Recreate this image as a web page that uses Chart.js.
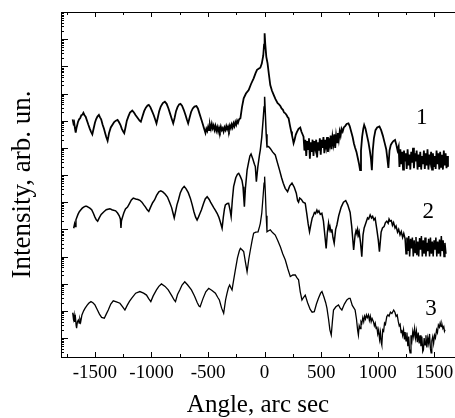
<!DOCTYPE html>
<html>
<head>
<meta charset="utf-8">
<script src="https://cdn.jsdelivr.net/npm/chart.js@4.4.1/dist/chart.umd.min.js"></script>
<style>
  html, body { margin: 0; padding: 0; background: #fff; }
  #wrap { width: 455px; height: 418px; }
</style>
</head>
<body>
<div id="wrap"><canvas id="chart_xrd"></canvas></div>
<script>
// angle (arc sec) and log10 intensity
var curve1 = [
  [-1697, 9.05], [-1690, 8.9], [-1684, 8.95], [-1676, 8.7], [-1670, 8.56], [-1662, 8.75], [-1650, 8.95], [-1640, 9.05],
  [-1630, 9.1], [-1620, 9.2], [-1610, 9.22], [-1602, 9.29], [-1592, 9.2], [-1582, 9.15], [-1570, 9.0], [-1558, 8.85],
  [-1545, 8.7], [-1535, 8.6], [-1523, 8.5], [-1512, 8.7], [-1500, 8.92], [-1490, 9.05], [-1478, 9.15], [-1465, 9.21],
  [-1455, 9.12], [-1445, 9.05], [-1432, 8.85], [-1420, 8.7], [-1410, 8.55], [-1400, 8.4], [-1388, 8.26], [-1375, 8.55],
  [-1360, 8.75], [-1345, 8.85], [-1330, 8.95], [-1315, 9.0], [-1300, 9.03], [-1288, 8.95], [-1275, 8.85], [-1262, 8.7],
  [-1250, 8.6], [-1241, 8.54], [-1230, 8.75], [-1218, 9.0], [-1205, 9.15], [-1190, 9.3], [-1170, 9.37], [-1155, 9.3],
  [-1140, 9.2], [-1122, 9.1], [-1105, 9.0], [-1094, 8.96], [-1080, 9.15], [-1065, 9.35], [-1050, 9.48], [-1035, 9.56],
  [-1024, 9.58], [-1010, 9.5], [-995, 9.35], [-980, 9.2], [-968, 9.05], [-956, 8.9], [-945, 9.1], [-932, 9.35],
  [-918, 9.52], [-900, 9.65], [-882, 9.7], [-866, 9.62], [-850, 9.45], [-835, 9.25], [-820, 9.05], [-808, 8.9],
  [-796, 9.1], [-783, 9.35], [-770, 9.5], [-756, 9.6], [-744, 9.62], [-730, 9.55], [-715, 9.4], [-700, 9.22],
  [-688, 9.05], [-676, 8.9], [-664, 9.1], [-650, 9.32], [-635, 9.45], [-620, 9.52], [-603, 9.54], [-590, 9.45],
  [-575, 9.25], [-560, 9.05], [-545, 8.85], [-538, 8.75], [-523, 8.55],
  [-515, 8.7], [-507, 8.62], [-499, 8.78], [-491, 8.65], [-483, 8.85], [-475, 8.7], [-467, 8.88], [-459, 8.72],
  [-451, 8.82], [-443, 8.66], [-435, 8.8], [-427, 8.63], [-419, 8.76], [-411, 8.6], [-403, 8.74], [-395, 8.62],
  [-387, 8.78], [-379, 8.65], [-371, 8.72], [-363, 8.6], [-355, 8.75], [-347, 8.66], [-339, 8.8], [-331, 8.68],
  [-323, 8.78], [-315, 8.66], [-307, 8.82], [-299, 8.72], [-291, 8.86], [-283, 8.75], [-275, 8.9], [-267, 8.8],
  [-259, 8.95], [-251, 8.85], [-243, 9.0], [-235, 8.92], [-225, 9.05], [-214, 9.09],
  [-200, 9.5], [-185, 9.82], [-165, 10.0], [-141, 10.13], [-120, 10.35], [-97, 10.56], [-80, 10.75], [-67, 10.87],
  [-50, 10.92], [-38, 10.95], [-25, 11.1], [-12, 11.4], [-5, 11.8], [0, 12.22], [6, 11.8], [15, 11.35],
  [26, 11.11], [38, 10.7], [50, 10.31], [65, 10.1], [80, 9.95], [95, 9.8], [115, 9.64], [127, 9.6],
  [139, 9.54], [150, 9.45], [162, 9.4], [172, 9.3], [183, 9.27], [195, 9.2], [205, 9.12], [212, 9.09],
  [225, 8.8], [235, 8.6], [242, 8.47], [250, 8.3], [256, 8.17], [265, 8.3], [275, 8.48], [286, 8.59],
  [300, 8.7], [315, 8.75], [325, 8.6], [335, 8.5], [344, 8.41],
  [352, 7.9], [360, 8.3], [368, 7.7], [376, 8.25], [384, 7.95], [392, 8.35], [400, 7.6], [408, 8.2],
  [416, 7.85], [424, 8.3], [432, 7.7], [440, 8.25], [448, 8.0], [456, 8.3], [464, 7.65], [472, 8.2],
  [480, 7.9], [488, 8.35], [496, 7.75], [504, 8.3], [512, 8.0], [520, 8.4], [528, 7.8], [536, 8.3],
  [544, 8.05], [552, 8.4], [560, 7.85], [568, 8.35], [576, 8.1], [584, 8.45], [592, 7.95], [600, 8.4],
  [608, 8.15], [616, 8.5], [624, 8.0], [632, 8.45], [640, 8.2], [648, 8.55], [656, 8.3], [664, 8.6],
  [672, 8.45], [680, 8.7], [690, 8.6], [700, 8.75], [712, 8.8], [725, 8.88], [741, 8.9],
  [752, 8.8], [765, 8.6], [778, 8.4], [790, 8.15], [800, 8.0], [812, 7.85], [825, 7.6], [835, 7.4],
  [844, 7.18], [852, 7.9], [862, 8.4], [872, 8.7], [880, 8.84], [892, 8.7], [905, 8.45], [918, 8.2],
  [930, 7.9], [940, 7.6], [948, 7.18], [956, 7.9], [966, 8.35], [980, 8.65], [995, 8.75], [1015, 8.79],
  [1030, 8.65], [1045, 8.45], [1060, 8.2], [1075, 7.95], [1085, 7.6], [1094, 7.26], [1104, 7.9], [1115, 8.1],
  [1124, 8.17], [1138, 8.25], [1153, 8.29], [1165, 8.1], [1175, 7.9], [1185, 8.05],
  [1192, 7.3], [1200, 7.95], [1208, 7.4], [1216, 7.85], [1224, 7.2], [1232, 7.9], [1240, 7.5], [1248, 7.8],
  [1256, 7.22], [1264, 7.95], [1272, 7.35], [1280, 7.75], [1288, 7.2], [1296, 7.85], [1304, 7.45], [1312, 8.0],
  [1320, 7.25], [1328, 7.8], [1336, 7.5], [1344, 7.9], [1352, 7.2], [1360, 7.75], [1368, 7.3], [1376, 7.85],
  [1384, 7.2], [1392, 7.7], [1400, 7.4], [1408, 7.9], [1416, 7.22], [1424, 7.8], [1432, 7.35], [1440, 7.95],
  [1448, 7.2], [1456, 7.75], [1464, 7.5], [1472, 7.85], [1480, 7.2], [1488, 7.8], [1496, 7.3], [1504, 7.7],
  [1512, 7.22], [1520, 7.9], [1528, 7.4], [1536, 7.8], [1544, 7.2], [1552, 7.85], [1560, 7.3], [1568, 7.75],
  [1576, 7.2], [1584, 7.9], [1592, 7.35], [1600, 7.8], [1608, 7.25], [1615, 7.7], [1621, 7.3]
];

var curve2 = [
  [-1688, 5.04], [-1680, 5.2], [-1675, 5.1], [-1668, 5.35], [-1662, 5.42], [-1650, 5.55], [-1638, 5.65], [-1626, 5.71],
  [-1612, 5.78], [-1600, 5.82], [-1585, 5.85], [-1573, 5.85], [-1560, 5.82], [-1545, 5.78], [-1529, 5.72], [-1515, 5.6],
  [-1500, 5.45], [-1488, 5.35], [-1476, 5.3], [-1462, 5.42], [-1445, 5.55], [-1423, 5.64], [-1400, 5.72], [-1385, 5.74],
  [-1368, 5.76], [-1350, 5.72], [-1335, 5.7], [-1317, 5.68], [-1300, 5.6], [-1285, 5.5], [-1275, 5.38], [-1270, 5.05],
  [-1266, 5.3], [-1260, 5.4], [-1245, 5.6], [-1230, 5.75], [-1212, 5.82], [-1195, 5.95], [-1178, 6.08], [-1161, 6.15],
  [-1140, 6.12], [-1120, 6.1], [-1103, 6.07], [-1085, 6.0], [-1068, 5.9], [-1053, 5.82], [-1038, 5.72], [-1024, 5.66],
  [-1010, 5.8], [-990, 5.98], [-973, 6.08], [-955, 6.25], [-935, 6.38], [-918, 6.42], [-900, 6.38], [-880, 6.3],
  [-859, 6.19], [-840, 6.0], [-822, 5.8], [-810, 5.6], [-799, 5.42], [-785, 5.7], [-775, 5.9], [-762, 6.08],
  [-745, 6.35], [-728, 6.5], [-711, 6.58], [-695, 6.5], [-675, 6.35], [-656, 6.14], [-640, 5.9], [-625, 5.65],
  [-610, 5.45], [-597, 5.34], [-585, 5.45], [-570, 5.6], [-559, 5.71], [-540, 5.95], [-525, 6.12], [-508, 6.2],
  [-490, 6.1], [-478, 6.0], [-464, 5.9], [-450, 5.8], [-435, 5.7], [-420, 5.59], [-405, 5.45], [-390, 5.25],
  [-376, 5.04], [-365, 5.45], [-355, 5.75], [-347, 5.9], [-330, 5.95], [-318, 5.96], [-305, 5.7], [-296, 5.47],
  [-285, 6.1], [-274, 6.57], [-255, 6.9], [-240, 7.03], [-229, 7.06], [-215, 6.95], [-200, 6.8], [-191, 6.57],
  [-185, 6.2], [-179, 5.83], [-170, 6.5], [-155, 7.18], [-140, 7.5], [-130, 7.7], [-120, 7.77], [-105, 7.6],
  [-90, 7.4], [-82, 7.31], [-73, 6.75], [-60, 7.3], [-45, 7.75], [-38, 7.92], [-25, 8.4], [-12, 9.1],
  [-5, 9.5], [0, 9.88], [6, 9.3], [14, 8.5], [21, 8.04], [35, 8.05], [50, 7.98], [70, 7.85],
  [94, 7.74], [110, 7.5], [132, 7.18], [150, 6.9], [165, 6.7], [182, 6.51], [203, 6.39], [222, 6.6],
  [242, 6.7], [262, 6.55], [280, 6.33], [292, 6.05], [300, 6.0], [310, 6.15], [325, 6.1], [340, 6.0],
  [359, 5.96], [372, 5.6], [385, 5.2], [397, 4.91], [410, 5.2], [421, 5.42], [430, 5.5], [440, 5.62],
  [450, 5.58], [462, 5.71], [470, 5.62], [480, 5.68], [492, 5.55], [506, 5.59], [520, 5.3], [532, 4.8],
  [544, 4.3], [555, 4.9], [565, 5.22], [572, 5.0], [578, 5.1], [588, 4.9], [595, 5.0], [604, 4.7],
  [615, 4.49], [628, 5.0], [639, 5.16], [655, 5.5], [677, 5.82], [697, 6.0], [717, 6.06], [735, 5.9],
  [756, 5.62], [770, 5.1], [780, 4.6], [787, 4.24], [800, 4.8], [808, 4.95], [815, 4.85], [822, 5.0],
  [830, 4.8], [836, 4.9], [848, 4.5], [859, 3.99], [870, 4.8], [880, 5.05], [889, 5.16], [900, 5.3],
  [910, 5.42], [920, 5.38], [933, 5.53], [945, 5.42], [955, 5.48], [966, 5.35], [977, 5.41], [992, 5.0],
  [1005, 4.6], [1015, 4.18], [1030, 4.9], [1042, 5.05], [1056, 5.1], [1068, 5.25], [1080, 5.3], [1092, 5.22],
  [1100, 5.38], [1109, 5.3], [1120, 5.32], [1130, 5.15], [1140, 5.25], [1153, 5.05], [1162, 5.12], [1175, 4.9],
  [1185, 5.0], [1197, 4.8], [1208, 4.92], [1220, 4.7], [1230, 4.85], [1242, 4.65],
  [1250, 4.1], [1258, 4.7], [1266, 4.2], [1274, 4.75], [1282, 4.0], [1290, 4.65], [1298, 4.3], [1306, 4.7],
  [1314, 4.0], [1322, 4.6], [1330, 4.15], [1338, 4.72], [1346, 4.05], [1354, 4.55], [1362, 4.0], [1370, 4.68],
  [1378, 4.25], [1386, 4.75], [1394, 4.0], [1402, 4.6], [1410, 4.1], [1418, 4.7], [1426, 4.0], [1434, 4.5],
  [1442, 4.2], [1450, 4.65], [1458, 4.0], [1466, 4.7], [1474, 4.1], [1482, 4.55], [1490, 4.0], [1498, 4.6],
  [1506, 4.25], [1514, 4.7], [1522, 4.0], [1530, 4.55], [1538, 4.1], [1546, 4.62], [1554, 4.0], [1562, 4.75],
  [1570, 4.2], [1578, 4.6], [1586, 4.0], [1594, 4.5], [1603, 4.1]
];

var curve3 = [
  [-1697, 1.93], [-1690, 1.7], [-1684, 1.85], [-1679, 1.59], [-1672, 1.75], [-1666, 1.45], [-1662, 1.36], [-1655, 1.6],
  [-1647, 1.66], [-1640, 1.55], [-1633, 1.7], [-1626, 1.59], [-1615, 1.85], [-1600, 2.0], [-1588, 2.09], [-1570, 2.2],
  [-1555, 2.28], [-1535, 2.34], [-1518, 2.3], [-1500, 2.22], [-1480, 2.05], [-1460, 1.88], [-1441, 1.76], [-1417, 1.73],
  [-1400, 1.88], [-1382, 2.03], [-1360, 2.25], [-1338, 2.37], [-1310, 2.33], [-1279, 2.28], [-1255, 2.15], [-1235, 2.03],
  [-1215, 2.2], [-1195, 2.35], [-1176, 2.46], [-1140, 2.65], [-1103, 2.71], [-1070, 2.65], [-1044, 2.58], [-1025, 2.45],
  [-1006, 2.34], [-985, 2.55], [-956, 2.77], [-935, 2.9], [-912, 2.99], [-880, 2.9], [-852, 2.77], [-820, 2.55],
  [-800, 2.4], [-788, 2.34], [-770, 2.6], [-750, 2.77], [-730, 2.95], [-706, 3.07], [-680, 2.95], [-647, 2.77],
  [-620, 2.55], [-595, 2.3], [-580, 2.18], [-570, 2.15], [-545, 2.45], [-520, 2.7], [-494, 2.83], [-465, 2.75],
  [-435, 2.65], [-415, 2.5], [-400, 2.4], [-380, 2.1], [-362, 1.91], [-345, 2.4], [-332, 2.65], [-320, 2.85],
  [-309, 2.95], [-298, 2.85], [-288, 2.77], [-275, 3.1], [-259, 3.5], [-240, 3.95], [-224, 4.2], [-214, 4.3],
  [-200, 4.25], [-185, 4.18], [-170, 3.8], [-155, 3.44], [-140, 3.9], [-126, 4.24], [-110, 4.6], [-97, 4.86],
  [-78, 4.9], [-58, 4.91], [-45, 5.1], [-38, 5.22], [-25, 5.6], [-12, 6.3], [-5, 6.7], [0, 6.94],
  [6, 6.4], [14, 5.5], [21, 4.91], [35, 4.95], [50, 4.98], [70, 4.88], [94, 4.79], [115, 4.6],
  [139, 4.36], [160, 4.1], [183, 3.87], [205, 3.55], [227, 3.26], [250, 3.32], [271, 3.32], [285, 3.22],
  [300, 3.14], [315, 2.7], [330, 2.4], [345, 2.5], [359, 2.58], [380, 2.3], [403, 2.05], [420, 1.95],
  [439, 1.97], [458, 2.25], [476, 2.46], [495, 2.65], [507, 2.71], [525, 2.5], [540, 2.3], [551, 2.1],
  [565, 1.7], [577, 1.3], [589, 1.11], [600, 1.65], [609, 2.03], [630, 2.15], [653, 2.22], [668, 2.1],
  [683, 2.03], [705, 2.25], [727, 2.4], [745, 2.46], [756, 2.46], [775, 2.2], [800, 2.03], [812, 1.7],
  [822, 1.3], [829, 1.11], [836, 1.45], [844, 1.35], [852, 1.6], [859, 1.54], [868, 1.75], [876, 1.6],
  [884, 1.8], [892, 1.7], [900, 1.85], [908, 1.75], [918, 1.85], [926, 1.65], [934, 1.8], [942, 1.6],
  [950, 1.72], [962, 1.6], [970, 1.45], [978, 1.55], [986, 1.35], [992, 1.42], [1000, 1.15], [1008, 1.3],
  [1016, 0.95], [1024, 1.2], [1030, 0.85], [1036, 0.74], [1044, 1.3], [1052, 1.25], [1060, 1.55], [1068, 1.5],
  [1080, 1.79], [1090, 1.85], [1100, 1.8], [1112, 1.95], [1125, 1.9], [1141, 2.03], [1152, 1.95], [1162, 1.8],
  [1172, 1.85], [1182, 1.6], [1190, 1.45], [1198, 1.5], [1206, 1.2], [1212, 1.3], [1220, 1.1], [1228, 1.3],
  [1236, 0.95], [1242, 1.22], [1250, 0.9], [1258, 1.2], [1266, 0.7], [1274, 1.05], [1280, 0.6], [1286, 0.45],
  [1294, 1.1], [1302, 0.9], [1310, 1.25], [1318, 1.05], [1326, 1.35], [1334, 1.0], [1342, 1.25], [1350, 0.85],
  [1358, 1.2], [1366, 0.8], [1374, 1.1], [1382, 0.7], [1390, 1.05], [1398, 0.5], [1404, 0.56], [1410, 1.0],
  [1418, 0.75], [1426, 1.1], [1434, 0.65], [1442, 1.0], [1450, 0.8], [1458, 1.15], [1466, 0.6], [1472, 0.45],
  [1478, 0.9], [1486, 1.05], [1494, 0.8], [1502, 1.1], [1510, 1.0], [1520, 1.3], [1528, 1.2], [1536, 1.48],
  [1545, 1.4], [1552, 1.55], [1560, 1.42], [1568, 1.5], [1576, 1.35], [1584, 1.42], [1590, 1.25], [1595, 1.3]
];

// curve numbers and where they sit (angle, log10 intensity)
var curveNames = ['1', '2', '3'];
var nameAngles = [1390, 1447, 1471];
var nameLogI = [9.09, 5.64, 2.07];

// axis ticks
var xTickValues = [-1750, -1500, -1250, -1000, -750, -500, -250, 0, 250, 500, 750, 1000, 1250, 1500];
var xTickLabels = ['', '-1500', '', '-1000', '', '-500', '', '0', '', '500', '', '1000', '', '1500'];
var yDecades = [0, 1, 2, 3, 4, 5, 6, 7, 8, 9, 10, 11, 12, 13];
var yMantissas = [1, 2, 3, 4, 5, 6, 7, 8, 9];

function toPoints(curve) {
    return curve.map(function (p) { return {x: p[0], y: Math.pow(10, p[1])}; });
}

var serif = '"Liberation Serif", "Times New Roman", serif';

var frameTicks = {
    id: 'frameTicks',
    afterDatasetsDraw: function (chart) {
        var ctx = chart.ctx, a = chart.chartArea, xs = chart.scales.x, ys = chart.scales.y;
        ctx.save();
        ctx.strokeStyle = '#000';
        ctx.lineWidth = 1;
        ctx.beginPath();
        ctx.moveTo(a.left, Math.round(a.top) + 0.5);
        ctx.lineTo(a.right, Math.round(a.top) + 0.5);
        xs.ticks.forEach(function (t) {
            var px = Math.round(xs.getPixelForValue(t.value)) + 0.5;
            var len = t.value % 500 === 0 ? 5 : 3;
            ctx.moveTo(px, a.bottom);
            ctx.lineTo(px, a.bottom - len);
            ctx.moveTo(px, a.top);
            ctx.lineTo(px, a.top + len);
        });
        ys.ticks.forEach(function (t) {
            var py = Math.round(ys.getPixelForValue(t.value)) + 0.5;
            var len = t.major ? 7 : 3;
            ctx.moveTo(a.left, py);
            ctx.lineTo(a.left + len, py);
        });
        ctx.stroke();
        ctx.fillStyle = '#000';
        ctx.font = '23px ' + serif;
        ctx.textAlign = 'center';
        ctx.textBaseline = 'middle';
        curveNames.forEach(function (name, i) {
            ctx.fillText(name, xs.getPixelForValue(nameAngles[i]), ys.getPixelForValue(Math.pow(10, nameLogI[i])));
        });
        ctx.restore();
    }
};

function lineSet(curve, width) {
    return {
        data: toPoints(curve),
        borderColor: '#000',
        borderWidth: width,
        pointRadius: 0,
        tension: 0,
        fill: false
    };
}

var chart_xrd = new Chart(document.getElementById('chart_xrd'), {
    type: 'line',
    data: {
        datasets: [lineSet(curve1, 1.8), lineSet(curve2, 1.5), lineSet(curve3, 1.3)]
    },
    options: {
        animation: false,
        responsive: true,
        maintainAspectRatio: false,
        layout: { padding: { top: 12, right: 0, left: 0, bottom: 0 } },
        plugins: {
            legend: { display: false },
            tooltip: { enabled: false }
        },
        scales: {
            x: {
                type: 'linear',
                min: -1800,
                max: 1683,
                afterBuildTicks: function (scale) {
                    scale.ticks = xTickValues.map(function (v) { return {value: v}; });
                },
                afterFit: function (scale) {
                    scale.height = 61;
                    scale.paddingLeft = 0;
                    scale.paddingRight = 0;
                },
                grid: { display: false, drawTicks: false },
                border: { display: true, color: '#000', width: 1 },
                ticks: {
                    autoSkip: false,
                    maxRotation: 0,
                    padding: 5,
                    color: '#000',
                    font: { family: serif, size: 19 },
                    callback: function (value) {
                        var i = xTickValues.indexOf(value);
                        return i < 0 ? '' : xTickLabels[i];
                    }
                },
                title: {
                    display: true,
                    text: 'Angle, arc sec',
                    color: '#000',
                    font: { family: serif, size: 25, lineHeight: 1 },
                    padding: { top: 0, bottom: 0 }
                }
            },
            y: {
                type: 'logarithmic',
                min: 2,
                max: 1e13,
                afterBuildTicks: function (scale) {
                    var ticks = [];
                    yDecades.forEach(function (d) {
                        yMantissas.forEach(function (m) {
                            var v = m * Math.pow(10, d);
                            if (v >= scale.min && v <= scale.max) ticks.push({value: v, major: m === 1});
                        });
                    });
                    scale.ticks = ticks;
                },
                afterFit: function (scale) { scale.width = 61; },
                grid: { display: false },
                border: { display: true, color: '#000', width: 1 },
                ticks: { display: false },
                title: {
                    display: true,
                    text: 'Intensity, arb. un.',
                    color: '#000',
                    font: { family: serif, size: 27, lineHeight: 1 },
                    padding: { top: 9, bottom: 0 }
                }
            }
        }
    },
    plugins: [frameTicks]
});
</script>
</body>
</html>
